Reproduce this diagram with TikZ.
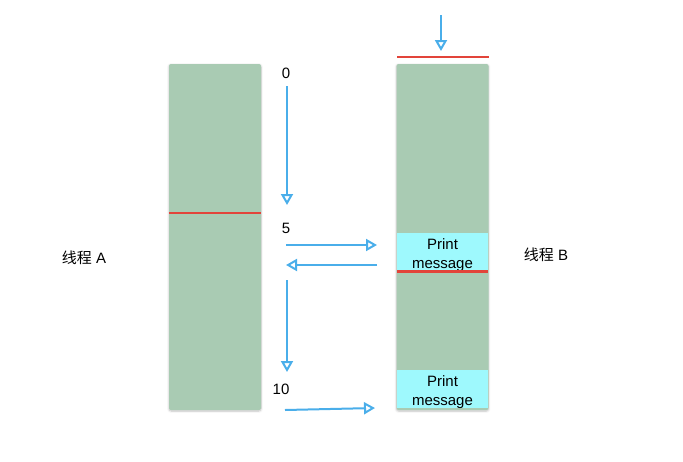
\documentclass[tikz,border=0pt]{standalone}
\usepackage{fontspec}
\setmainfont{Liberation Sans}
\newfontfamily\cjk{Noto Sans CJK SC}
\usepackage{xcolor}
\usepackage{tikz}
\usetikzlibrary{positioning,arrows.meta,shadows.blur}

\definecolor{bargreen}{HTML}{A9CBB3}
\definecolor{msgcyan}{HTML}{9EF9FD}
\definecolor{flowblue}{HTML}{4AAEEA}
\definecolor{lockred}{HTML}{E2443A}

\begin{document}
\begin{tikzpicture}[
  x=1pt, y=-1pt,
  every node/.style={font=\fontsize{15}{19}\selectfont, inner sep=0pt},
  bar/.style={fill=bargreen, rounded corners=2pt, minimum width=92pt, minimum height=346pt,
    blur shadow={shadow xshift=0pt, shadow yshift=-1pt, shadow blur steps=6, shadow opacity=25}},
  msg/.style={fill=msgcyan, minimum width=91pt, minimum height=38pt, align=center,
    text height=32.7pt, text depth=0pt},
  lock/.style={draw=lockred, line width=2.4pt},
  flow/.style={draw=flowblue, line width=2pt, -{Triangle[open, length=11pt, width=12pt, line width=2pt]}}
]
\useasboundingbox (0,0) rectangle (683,461);

% threads
\node[bar] (barA) at (215,237) {};
\node[bar] (barB) at (442.5,237) {};
\node (labA) at (84,258) {{\cjk 线程} A};
\node (labB) at (546,255) {{\cjk 线程} B};

% messages on B
\node[msg, anchor=north] (msg1) at (442.5,233) {Print\\message};
\node[msg, anchor=north] (msg2) at (442.5,369.5) {Print\\message};

% locks
\draw[lock] (barA.west |- 0,213) -- (barA.east |- 0,213);
\draw[lock] (msg1.south west) -- (msg1.south east);
\draw[lock] (397,57) -- (489,57);

% time marks
\node (t0) at (286,73) {0};
\node (t5) at (286,228) {5};
\node (t10) at (281,389) {10};

\coordinate (inB) at (441,15);
\coordinate (topB) at (441,51);
\coordinate (s0) at (287,86);
\coordinate (d1) at (287,205);
\coordinate (s1) at (286,245);
\coordinate (e1) at (377,245);
\coordinate (s2) at (377,265);
\coordinate (e2) at (286,265);
\coordinate (s3) at (287,280);
\coordinate (e3) at (287,372);
\coordinate (s4) at (285,410);
\coordinate (e4) at (375,408);

\draw[flow] (inB) -- (topB);
\draw[flow] (s0) -- (d1);
\draw[flow] (s1) -- (e1);
\draw[flow] (s2) -- (e2);
\draw[flow] (s3) -- (e3);
\draw[flow] (s4) -- (e4);
\end{tikzpicture}
\end{document}
